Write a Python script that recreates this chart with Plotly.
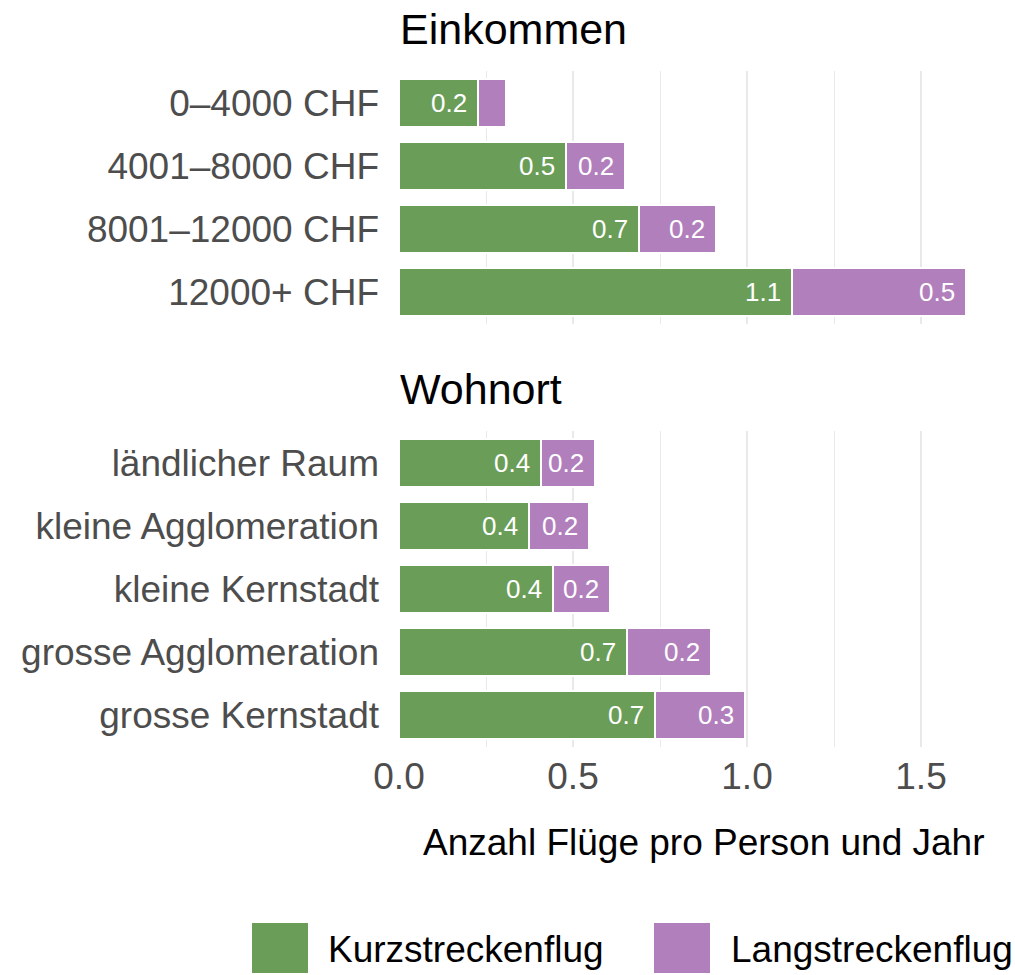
import plotly.graph_objects as go

W, H = 1015, 975

# Einkommen panel
einkommen_cats = ["0–4000 CHF", "4001–8000 CHF", "8001–12000 CHF", "12000+ CHF"]
einkommen_kurz = [0.227, 0.48, 0.69, 1.13]
einkommen_lang = [0.08, 0.17, 0.22, 0.50]

# Wohnort panel
wohnort_cats = ["ländlicher Raum", "kleine Agglomeration", "kleine Kernstadt",
                "grosse Agglomeration", "grosse Kernstadt"]
wohnort_kurz = [0.408, 0.373, 0.442, 0.655, 0.735]
wohnort_lang = [0.155, 0.172, 0.163, 0.242, 0.26]

x_ticks = [0.0, 0.5, 1.0, 1.5]
x_ticktext = ["0.0", "0.5", "1.0", "1.5"]

GREEN = "#6a9e58"
PURPLE = "#b27fbd"
FONT = "Liberation Sans, Arial, sans-serif"


def px(x):
    return x / W


def py(y):
    return 1 - y / H


fig = go.Figure()

panels = [
    (einkommen_cats, einkommen_kurz, einkommen_lang, "x2", "y"),
    (wohnort_cats, wohnort_kurz, wohnort_lang, "x", "y2"),
]
for cats, kurz, lang, xa, ya in panels:
    fig.add_trace(go.Bar(
        y=cats, x=kurz, orientation="h", xaxis=xa, yaxis=ya, width=0.76,
        marker=dict(color=GREEN, line=dict(color="white", width=2.2)),
        name="Kurzstreckenflug", showlegend=False,
    ))
    fig.add_trace(go.Bar(
        y=cats, x=lang, orientation="h", xaxis=xa, yaxis=ya, width=0.76,
        marker=dict(color=PURPLE, line=dict(color="white", width=2.2)),
        name="Langstreckenflug", showlegend=False,
    ))

annotations = []
# value labels at the right end of each segment
for cats, kurz, lang, xa, ya in panels:
    for c, k, l in zip(cats, kurz, lang):
        for end, v in ((k, k), (k + l, l)):
            if v < 0.1:
                continue
            annotations.append(dict(
                x=end, y=c, xref=xa, yref=ya, text=f"{v:.1f}",
                xanchor="right", yanchor="middle", xshift=-9, showarrow=False,
                font=dict(family=FONT, size=26, color="white"),
            ))

# facet titles
for title, ycen in (("Einkommen", 29), ("Wohnort", 389)):
    annotations.append(dict(
        x=px(398), y=py(ycen), xref="paper", yref="paper", text=title,
        xanchor="left", yanchor="middle", showarrow=False,
        font=dict(family=FONT, size=43, color="black"),
    ))

# x axis title
annotations.append(dict(
    x=px(703.5), y=py(842), xref="paper", yref="paper",
    text="Anzahl Flüge pro Person und Jahr", xanchor="center", yanchor="middle",
    showarrow=False, font=dict(family=FONT, size=37, color="black"),
))

# legend drawn by hand (large keys)
shapes = []
for label, color, x0, x1, xt in (("Kurzstreckenflug", GREEN, 252, 308, 326),
                                 ("Langstreckenflug", PURPLE, 654, 710, 729)):
    shapes.append(dict(type="rect", xref="paper", yref="paper",
                       x0=px(x0), x1=px(x1), y0=py(973), y1=py(923),
                       fillcolor=color, line=dict(width=0)))
    annotations.append(dict(
        x=px(xt), y=py(949), xref="paper", yref="paper", text=label,
        xanchor="left", yanchor="middle", showarrow=False,
        font=dict(family=FONT, size=37, color="black"),
    ))

xdomain = [px(399), px(1008)]
xcommon = dict(
    domain=xdomain, range=[0, 1.75], showgrid=True, gridcolor="#e9e9e9",
    gridwidth=2, zeroline=False, showline=False, tickvals=x_ticks,
    ticktext=x_ticktext, automargin=False,
    minor=dict(dtick=0.25, tick0=0, showgrid=True, gridcolor="#e9e9e9", gridwidth=1.2),
    tickfont=dict(family=FONT, size=37, color="#4d4d4d"),
)
ycommon = dict(
    showgrid=False, zeroline=False, showline=False, type="category",
    automargin=False,
    tickfont=dict(family=FONT, size=37, color="#4d4d4d"), ticklabelstandoff=19,
)

fig.update_layout(
    width=W, height=H, barmode="stack", bargap=0,
    plot_bgcolor="white", paper_bgcolor="white",
    margin=dict(l=0, r=0, t=0, b=0, autoexpand=False),
    xaxis=dict(**xcommon, anchor="y2", ticklabelstandoff=4),
    xaxis2=dict(**xcommon, anchor="y", matches="x", showticklabels=False),
    yaxis=dict(**ycommon, domain=[py(324), py(71)], anchor="x2",
               categoryorder="array", categoryarray=einkommen_cats,
               range=[3.5, -0.5]),
    yaxis2=dict(**ycommon, domain=[py(747), py(431)], anchor="x",
                categoryorder="array", categoryarray=wohnort_cats,
                range=[4.5, -0.5]),
    annotations=annotations, shapes=shapes,
)

# drop the default page margin so the 1015x975 figure fills the window exactly
fig.write_html("out.html", config={"displayModeBar": False},
               post_script="document.body.style.margin = '0';")
